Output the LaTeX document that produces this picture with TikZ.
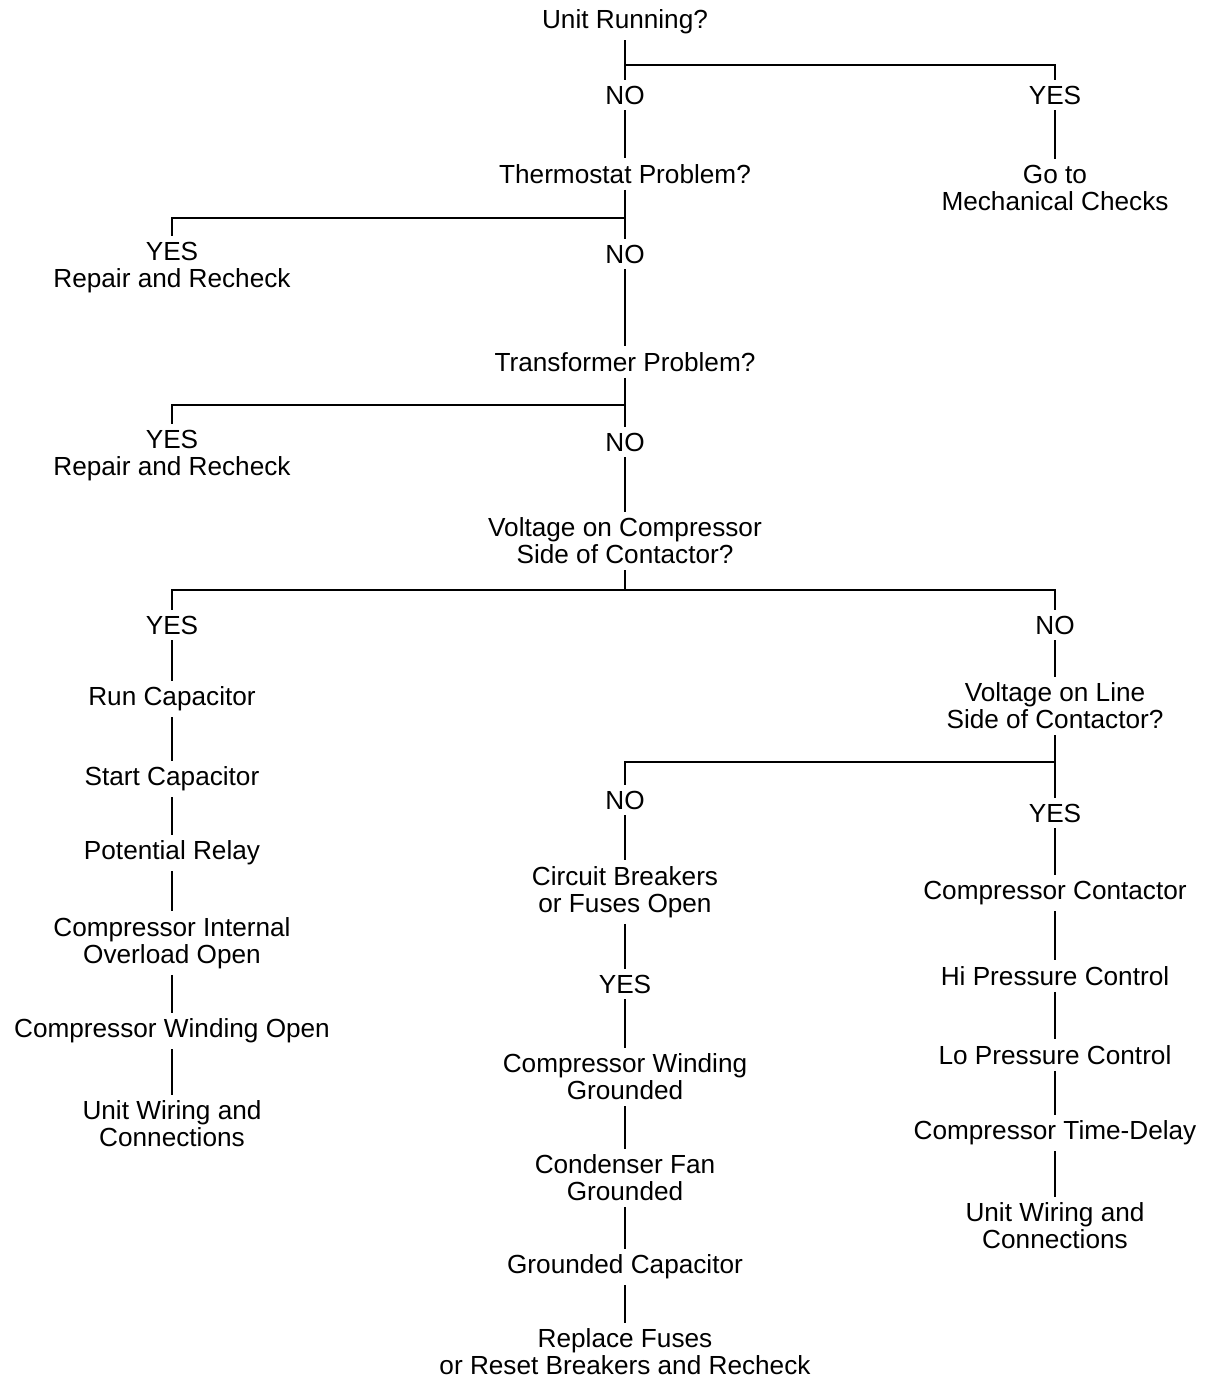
\documentclass[tikz,border=0pt]{standalone}
\usepackage{fontspec}
\setmainfont{Liberation Sans}

\begin{document}
\begin{tikzpicture}[x=0.02cm, y=-0.02cm]
        \tikzstyle{item}=[align=center, font=\fontsize{14.9}{15.4}\selectfont, inner sep=0.3333em]
        \tikzstyle{link}=[line width=0.8pt]
        \useasboundingbox (0,0) rectangle (1205,1377);

        % Top question
        \node (run) [item] at (625,22) {Unit Running?};
        \node (no1) [item] at (625,95) {NO};
        \node (yes1) [item] at (1055,95) {YES};
        \node (mech) [item] at (1055,188) {Go to\\Mechanical Checks};
        \coordinate (b1) at (625,65);

        % Thermostat
        \node (thermo) [item] at (625,174) {Thermostat Problem?};
        \node (rep1) [item] at (172,268) {YES\\Repair and Recheck};
        \node (no2) [item] at (625,254) {NO};
        \coordinate (b2) at (625,218);

        % Transformer
        \node (trans) [item] at (625,362) {Transformer Problem?};
        \node (rep2) [item] at (172,456) {YES\\Repair and Recheck};
        \node (no3) [item] at (625,442) {NO};
        \coordinate (b3) at (625,405);

        % Compressor side voltage
        \node (vcomp) [item] at (625,541) {Voltage on Compressor\\Side of Contactor?};
        \node (yes3) [item] at (172,625) {YES};
        \node (no4) [item] at (1055,625) {NO};
        \coordinate (b4) at (625,590);

        % Left column
        \node (runcap) [item] at (172,699) {Run Capacitor};
        \node (startcap) [item] at (172,779) {Start Capacitor};
        \node (potrel) [item] at (172,853) {Potential Relay};
        \node (overload) [item] at (172,943) {Compressor Internal\\Overload Open};
        \node (winding) [item] at (172,1031) {Compressor Winding Open};
        \node (wiring1) [item] at (172,1124) {Unit Wiring and\\Connections};

        % Line side voltage
        \node (vline) [item] at (1055,706) {Voltage on Line\\Side of Contactor?};
        \node (no5) [item] at (625,800) {NO};
        \node (yes5) [item] at (1055,813) {YES};
        \coordinate (b5) at (1055,762);

        % Center column
        \node (breakers) [item] at (625,892) {Circuit Breakers\\or Fuses Open};
        \node (yes6) [item] at (625,984) {YES};
        \node (wgnd) [item] at (625,1077) {Compressor Winding\\Grounded};
        \node (fan) [item] at (625,1178) {Condenser Fan\\Grounded};
        \node (gcap) [item] at (625,1267) {Grounded Capacitor};
        \node (fuses) [item] at (625,1352) {Replace Fuses\\or Reset Breakers and Recheck};

        % Right column
        \node (contactor) [item] at (1055,893) {Compressor Contactor};
        \node (hipc) [item] at (1055,976) {Hi Pressure Control};
        \node (lopc) [item] at (1055,1055) {Lo Pressure Control};
        \node (delay) [item] at (1055,1133) {Compressor Time-Delay};
        \node (wiring2) [item] at (1055,1226) {Unit Wiring and\\Connections};

        % Lines
        \draw[link] (run) -- (no1);
        \draw[link] (b1) -| (yes1);
        \draw[link] (yes1) -- (mech);
        \draw[link] (no1) -- (thermo);
        \draw[link] (thermo) -- (no2);
        \draw[link] (b2) -| (rep1);
        \draw[link] (no2) -- (trans);
        \draw[link] (trans) -- (no3);
        \draw[link] (b3) -| (rep2);
        \draw[link] (no3) -- (vcomp);
        \draw[link] (vcomp) -- (b4);
        \draw[link] (yes3) |- (b4) -| (no4);
        \draw[link] (yes3) -- (runcap);
        \draw[link] (runcap) -- (startcap);
        \draw[link] (startcap) -- (potrel);
        \draw[link] (potrel) -- (overload);
        \draw[link] (overload) -- (winding);
        \draw[link] (winding) -- (wiring1);
        \draw[link] (no4) -- (vline);
        \draw[link] (vline) -- (yes5);
        \draw[link] (b5) -| (no5);
        \draw[link] (no5) -- (breakers);
        \draw[link] (breakers) -- (yes6);
        \draw[link] (yes6) -- (wgnd);
        \draw[link] (wgnd) -- (fan);
        \draw[link] (fan) -- (gcap);
        \draw[link] (gcap) -- (fuses);
        \draw[link] (yes5) -- (contactor);
        \draw[link] (contactor) -- (hipc);
        \draw[link] (hipc) -- (lopc);
        \draw[link] (lopc) -- (delay);
        \draw[link] (delay) -- (wiring2);
\end{tikzpicture}
\end{document}
